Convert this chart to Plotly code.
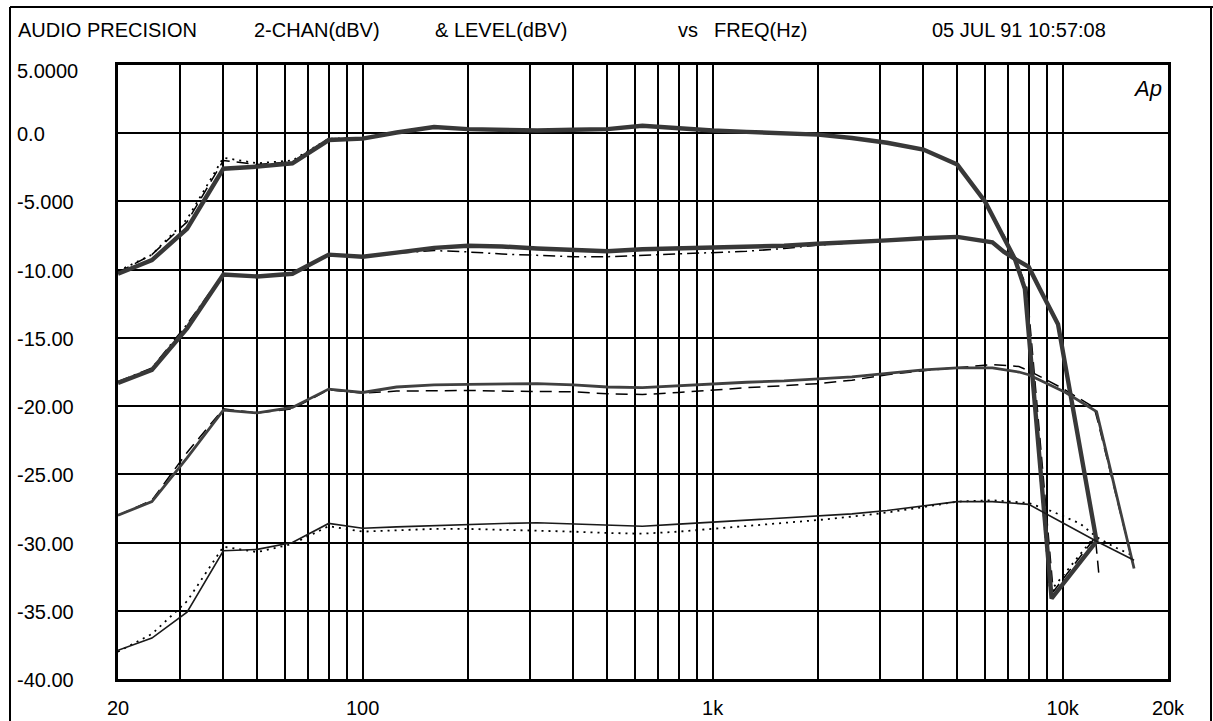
import plotly.graph_objects as go

# ---------------- data ----------------
freq_common = [20, 25, 31.5, 40, 50, 63, 80, 100, 125, 160, 200, 250, 315, 400,
               500, 630, 800, 1000, 1250, 1600, 2000, 2500, 3150, 4000, 5000]

# group 1 (0 dBV region)
g1_solid = [-10.3, -9.3, -7.0, -2.6, -2.45, -2.2, -0.5, -0.4, 0.05, 0.45, 0.3, 0.25, 0.2,
            0.25, 0.3, 0.55, 0.35, 0.2, 0.1, 0.0, -0.1, -0.35, -0.7, -1.2, -2.3]
g1_solid_tail_f = [6000, 6800, 7300, 7800, 9300, 12500]
g1_solid_tail_v = [-5.0, -7.6, -9.2, -11.4, -34.1, -29.9]

g1_dash = [-10.2, -8.9, -6.5, -2.0, -2.3, -2.1, -0.4, -0.35, 0.1, 0.4, 0.3, 0.25, 0.2,
           0.25, 0.3, 0.5, 0.35, 0.2, 0.1, 0.0, -0.1, -0.35, -0.7, -1.2, -2.3]
g1_dash_tail_f = [6000, 6800, 7300, 7900, 9400, 12400, 12700]
g1_dash_tail_v = [-5.0, -7.5, -9.1, -11.3, -33.6, -29.6, -32.4]

g1_dot = [-10.1, -8.9, -6.3, -1.8, -2.2, -2.0, -0.4, -0.35, 0.1, 0.4, 0.3, 0.25, 0.2,
          0.25, 0.3, 0.5, 0.35, 0.2, 0.1, 0.0, -0.1, -0.35, -0.7, -1.2, -2.3]
g1_dot_tail_f = [6000, 6800, 7300, 7800, 9200, 12300]
g1_dot_tail_v = [-5.0, -7.6, -9.2, -11.4, -33.6, -29.6]

# group 2 (-10 dBV region)
g2_solid = [-18.3, -17.35, -14.3, -10.35, -10.5, -10.3, -8.9, -9.05, -8.75, -8.4, -8.25,
            -8.3, -8.45, -8.55, -8.65, -8.5, -8.45, -8.35, -8.35, -8.25, -8.1, -8.0,
            -7.85, -7.7, -7.6]
g2_tail_f = [6300, 6800, 7300, 8000, 8600, 9300, 9700, 12500]
g2_tail_v = [-8.0, -8.7, -9.2, -9.8, -11.4, -13.1, -14.0, -29.9]

g2_dashdot = [-18.2, -17.2, -14.0, -10.3, -10.5, -10.3, -8.9, -9.05, -8.8, -8.6, -8.7,
              -8.85, -8.95, -9.05, -9.05, -8.95, -8.85, -8.7, -8.65, -8.45, -8.2, -8.05,
              -7.85, -7.7, -7.6]

# group 3 (-20 dBV region)
g3_solid = [-28.0, -27.0, -23.8, -20.3, -20.5, -20.1, -18.75, -19.0, -18.6, -18.45, -18.4,
            -18.35, -18.35, -18.45, -18.6, -18.65, -18.5, -18.35, -18.25, -18.15, -18.0,
            -17.85, -17.6, -17.35, -17.2]
g3_solid_tail_f = [6300, 7500, 8000, 10200, 12500, 12800, 16000]
g3_solid_tail_v = [-17.2, -17.5, -17.7, -19.0, -20.4, -21.5, -31.9]

g3_dash = [-28.0, -26.9, -23.4, -20.2, -20.5, -20.2, -18.8, -19.05, -18.9, -18.85, -18.85,
           -18.9, -18.9, -18.95, -19.1, -19.15, -19.0, -18.8, -18.65, -18.5, -18.35,
           -18.1, -17.7, -17.4, -17.2]
g3_dash_tail_f = [6300, 7500, 8000, 10000, 12300, 12600, 15900]
g3_dash_tail_v = [-16.95, -17.1, -17.4, -18.7, -20.1, -21.1, -31.6]

# group 4 (-30 dBV region)
g4_solid = [-37.9, -37.0, -35.1, -30.6, -30.5, -30.0, -28.6, -28.95, -28.85, -28.75, -28.65,
            -28.6, -28.55, -28.65, -28.75, -28.8, -28.65, -28.5, -28.35, -28.2, -28.05,
            -27.9, -27.65, -27.3, -27.0]
g4_solid_tail_f = [6300, 8000, 12500, 16000]
g4_solid_tail_v = [-27.0, -27.2, -29.9, -31.3]

g4_dot = [-38.0, -36.7, -34.3, -30.3, -30.7, -30.1, -28.8, -29.2, -29.1, -29.0, -29.0,
          -29.05, -29.1, -29.2, -29.3, -29.35, -29.2, -29.0, -28.8, -28.6, -28.35, -28.1,
          -27.8, -27.4, -27.0]
g4_dot_tail_f = [6300, 8000, 9300, 11200, 12500, 14000, 16000]
g4_dot_tail_v = [-26.9, -27.1, -27.7, -28.6, -29.6, -30.3, -31.0]

# axis ticks
x_grid = [20, 30, 40, 50, 60, 70, 80, 90, 100, 200, 300, 400, 500, 600, 700, 800, 900,
          1000, 2000, 3000, 4000, 5000, 6000, 7000, 8000, 9000, 10000, 20000]
x_labels = {20: "20", 100: "100", 1000: "1k", 10000: "10k", 20000: "20k"}
y_ticks = [5, 0, -5, -10, -15, -20, -25, -30, -35, -40]
y_labels = ["5.0000", "0.0", "-5.000", "-10.00", "-15.00", "-20.00", "-25.00",
            "-30.00", "-35.00", "-40.00"]

header = [("AUDIO PRECISION", 16), ("2-CHAN(dBV)", 252), ("& LEVEL(dBV)", 433),
          ("vs", 676), ("FREQ(Hz)", 712), ("05 JUL 91 10:57:08", 930)]

# ---------------- figure ----------------
FONT = "Liberation Sans, Arial, Helvetica, sans-serif"
W, H = 1213, 721
L, R, T, B = 118, 45, 65, 42
PW, PH = W - L - R, H - T - B


def px2paper_x(px):
    return (px - L) / PW


def px2paper_y(py):
    return (H - B - py) / PH


fig = go.Figure()


def add(fx, vy, color, width, dash="solid"):
    fig.add_trace(go.Scatter(x=fx, y=vy, mode="lines",
                             line=dict(color=color, width=width, dash=dash),
                             showlegend=False, hoverinfo="skip"))


DASH = "12px,7px"
DOT = "2px,5px"
DASHDOT = "12px,5px,2px,5px"

# dashed/dotted twins first (under), then solids
add(freq_common + g1_dash_tail_f, g1_dash + g1_dash_tail_v, "#000", 1.5, DASH)
add(freq_common + g1_dot_tail_f, g1_dot + g1_dot_tail_v, "#000", 1.8, DOT)
add(freq_common + g2_tail_f, g2_dashdot + g2_tail_v, "#000", 1.5, DASHDOT)
add(freq_common + g3_dash_tail_f, g3_dash + g3_dash_tail_v, "#000", 1.5, DASH)
add(freq_common + g4_dot_tail_f, g4_dot + g4_dot_tail_v, "#000", 1.8, DOT)

add(freq_common + g1_solid_tail_f, g1_solid + g1_solid_tail_v, "#383838", 4.4)
add(freq_common + g2_tail_f, g2_solid + g2_tail_v, "#383838", 4.4)
add(freq_common + g3_solid_tail_f, g3_solid + g3_solid_tail_v, "#404040", 2.8)
add(freq_common + g4_solid_tail_f, g4_solid + g4_solid_tail_v, "#1a1a1a", 1.6)

fig.update_xaxes(type="log", range=[1.30103, 4.30103],
                 tickvals=x_grid,
                 ticktext=[x_labels.get(v, "") for v in x_grid],
                 showgrid=True, gridcolor="#000", gridwidth=2,
                 showline=True, linecolor="#000", linewidth=2.5, mirror=True,
                 ticks="", zeroline=False, ticklabelstandoff=9, automargin=False,
                 tickfont=dict(family=FONT, size=20, color="#000"))
fig.update_yaxes(range=[-40, 5], tickvals=y_ticks, showticklabels=False,
                 showgrid=True, gridcolor="#000", gridwidth=2,
                 showline=True, linecolor="#000", linewidth=2.5, mirror=True,
                 ticks="", zeroline=False, automargin=False)

ann = []
for v, t in zip(y_ticks, y_labels):
    shift = -1
    if v == 5:
        shift = -6
    ann.append(dict(x=px2paper_x(15), xref="paper", y=v, yref="y", text=t,
                    xanchor="left", yanchor="middle", yshift=shift, showarrow=False,
                    font=dict(family=FONT, size=20, color="#000")))
for t, xl in header:
    ann.append(dict(x=px2paper_x(xl), xref="paper", y=px2paper_y(30), yref="paper",
                    text=t, xanchor="left", yanchor="middle", showarrow=False,
                    font=dict(family=FONT, size=20, color="#000")))
ann.append(dict(x=px2paper_x(1147), xref="paper", y=px2paper_y(88), yref="paper",
                text="<i>Ap</i>", xanchor="center", yanchor="middle", showarrow=False,
                font=dict(family=FONT, size=22, color="#000")))

shapes = [
    dict(type="line", xref="paper", yref="paper", x0=px2paper_x(10), x1=px2paper_x(1213),
         y0=px2paper_y(7), y1=px2paper_y(7), line=dict(color="#000", width=2)),
    dict(type="line", xref="paper", yref="paper", x0=px2paper_x(10), x1=px2paper_x(10),
         y0=px2paper_y(7), y1=px2paper_y(721), line=dict(color="#000", width=2)),
    dict(type="line", xref="paper", yref="paper", x0=px2paper_x(1211), x1=px2paper_x(1211),
         y0=px2paper_y(7), y1=px2paper_y(721), line=dict(color="#000", width=2)),
]

fig.update_layout(width=W, height=H, margin=dict(l=L, r=R, t=T, b=B),
                  paper_bgcolor="white", plot_bgcolor="white",
                  annotations=ann, shapes=shapes,
                  font=dict(family=FONT, size=20, color="#000"))

fig.write_html("out.html", config={"displayModeBar": False},
               post_script="document.body.style.margin='0';"
                           "document.body.style.overflow='hidden';")
